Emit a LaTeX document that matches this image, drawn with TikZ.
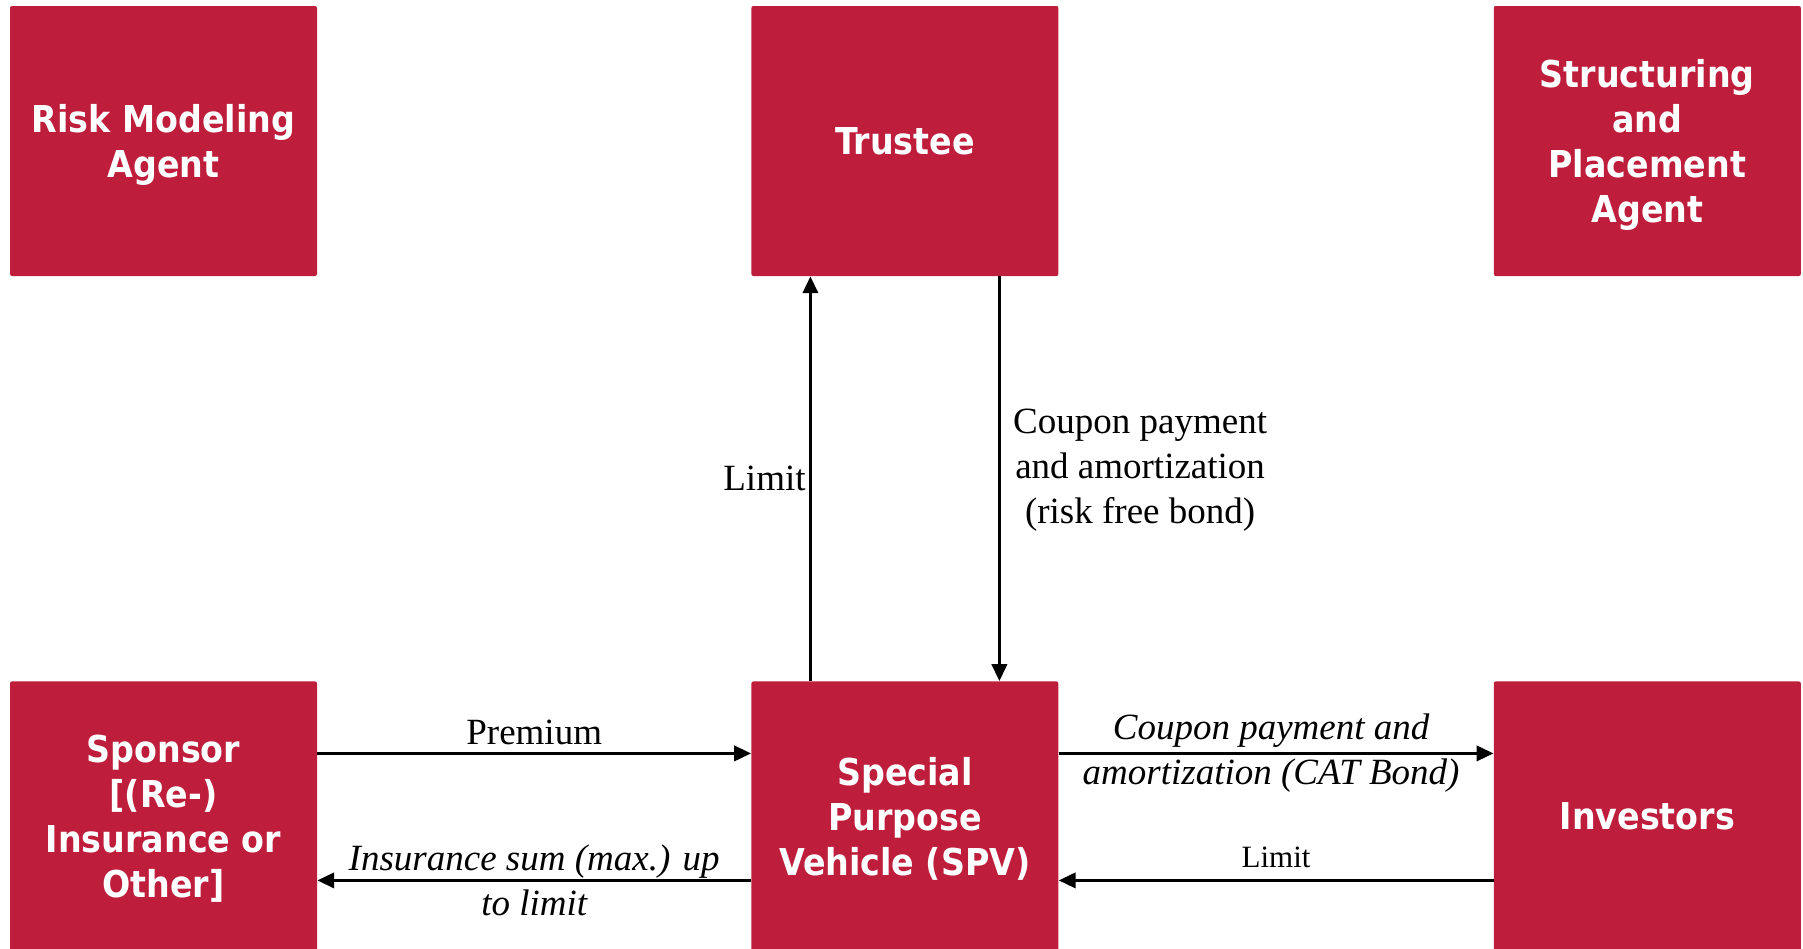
\documentclass[tikz,border=0pt]{standalone}
\usepackage{fontspec}
\setmainfont{Liberation Serif}
\newfontfamily\boxfont{DejaVu Sans Condensed}
\usepackage{tikz}
\usetikzlibrary{arrows.meta,positioning}
\definecolor{catred}{RGB}{190,30,60}
\tikzstyle{agent} = [rectangle, rounded corners=2pt, minimum width=307pt, minimum height=270pt, text centered, align=center, text depth=0pt, fill=catred, text=white, font=\boxfont\bfseries\fontsize{37}{45}\selectfont]
\tikzstyle{arrow} = [line width=3.6pt, -{Triangle[length=17pt,width=15pt]}]
\tikzstyle{lbl} = [inner sep=3pt, align=center, font=\fontsize{37}{45}\selectfont]

\begin{document}
\begin{tikzpicture}[node distance=405pt and 434pt]
\useasboundingbox (0,0) rectangle (1803pt,-948pt);

\node (risk) [agent] at (163.5pt,-141pt) {Risk Modeling\\Agent};
\node (trustee) [agent, right=434pt of risk] {Trustee};
\node (placement) [agent, right=435pt of trustee] {Structuring\\and\\Placement\\Agent};
\node (sponsor) [agent, below=of risk] {Sponsor\\{[}(Re-)\\Insurance or\\Other{]}};
\node (spv) [agent, below=of trustee] {Special\\Purpose\\Vehicle (SPV)};
\node (investors) [agent, below=of placement] {Investors};

\draw [arrow] ([xshift=-94.5pt]spv.north) -- node[lbl, left] {Limit} ([xshift=-94.5pt]trustee.south);
\draw [arrow] ([xshift=94.5pt]trustee.south) -- node[lbl, right, xshift=9pt, yshift=8.5pt] {Coupon payment\\and amortization\\(risk free bond)} ([xshift=94.5pt]spv.north);
\draw [arrow] ([yshift=63pt]sponsor.east) -- node[lbl, above, yshift=4pt] {Premium} ([yshift=63pt]spv.west);
\draw [arrow] ([yshift=-64pt]spv.west) -- node[lbl, font=\itshape\fontsize{37}{45}\selectfont] {Insurance sum (max.) up\\to limit} ([yshift=-64pt]sponsor.east);
\draw [arrow] ([yshift=63pt]spv.east) -- node[lbl, xshift=-5pt, font=\itshape\fontsize{37}{45}\selectfont] {Coupon payment and\\amortization (CAT Bond)} ([yshift=63pt]investors.west);
\draw [arrow] ([yshift=-64pt]investors.west) -- node[lbl, above, yshift=8pt, font=\fontsize{31}{37}\selectfont] {Limit} ([yshift=-64pt]spv.east);

\end{tikzpicture}
\end{document}
